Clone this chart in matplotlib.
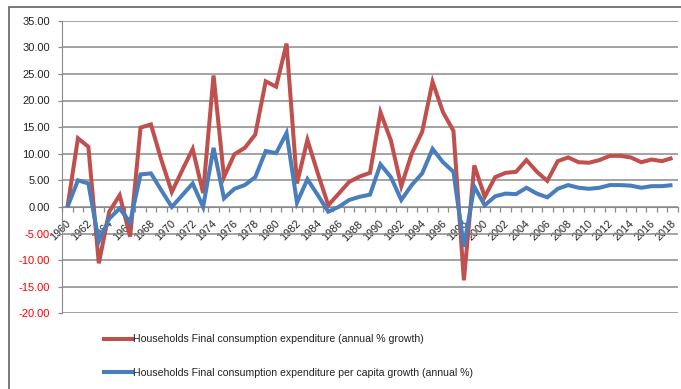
import matplotlib
matplotlib.use("Agg")
import matplotlib.pyplot as plt
import matplotlib.transforms as mtransforms
from matplotlib.patches import Rectangle
from matplotlib.lines import Line2D

years = list(range(1960, 2019))

consumption_growth = [
    0.0, 12.9, 11.3, -10.6, -0.9, 2.2, -5.6, 14.9, 15.5, 8.8,
    2.8, 6.9, 10.9, 2.6, 24.7, 5.6, 9.9, 11.1, 13.6, 23.6,
    22.6, 30.7, 4.4, 12.6, 6.3, 0.3, 2.5, 4.7, 5.7, 6.4,
    17.8, 12.5, 3.9, 10.0, 14.1, 23.5, 17.8, 14.3, -13.8, 7.8,
    1.9, 5.6, 6.4, 6.6, 8.8, 6.6, 4.9, 8.6, 9.3, 8.4,
    8.3, 8.8, 9.6, 9.6, 9.3, 8.4, 8.9, 8.6, 9.2,
]

per_capita_growth = [
    0.0, 5.0, 4.4, -6.5, -2.2, -0.3, -2.9, 6.1, 6.3, 3.1,
    0.0, 2.2, 4.4, 0.0, 11.1, 1.6, 3.4, 4.1, 5.6, 10.5,
    10.1, 13.9, 0.8, 5.2, 2.2, -0.9, 0.0, 1.3, 1.9, 2.3,
    8.0, 5.6, 1.3, 4.1, 6.3, 10.9, 8.4, 6.6, -7.5, 3.8,
    0.3, 2.0, 2.5, 2.4, 3.6, 2.5, 1.8, 3.4, 4.1, 3.6,
    3.4, 3.6, 4.1, 4.1, 4.0, 3.6, 3.9, 3.9, 4.1,
]

series_labels = [
    "Households Final consumption expenditure (annual % growth)",
    "Households Final consumption expenditure per capita growth (annual %)",
]

y_ticks = [35, 30, 25, 20, 15, 10, 5, 0, -5, -10, -15, -20]

RED = "#c0504d"
BLUE = "#4a7ebb"
GRID = "#8a8a8a"

W, H = 681, 389
fig = plt.figure(figsize=(W / 100, H / 100), dpi=100)
plt.rcParams["font.family"] = ["Liberation Sans", "DejaVu Sans"]

# outer chart frame
fig.patches.append(Rectangle((8.5 / W, -0.1), 1.2, 1.1 - 7.5 / H,
                             transform=fig.transFigure, fill=False,
                             edgecolor="#555555", linewidth=1.1))

left, right = 62.3 / W, 677.7 / W
top, bottom = 1 - 20.7 / H, 1 - 313.3 / H
ax = fig.add_axes([left, bottom, right - left, top - bottom])

x = list(range(len(years)))
ax.plot(x, consumption_growth, color=RED, lw=2.9, solid_joinstyle="miter",
        solid_capstyle="butt", zorder=3)
ax.plot(x, per_capita_growth, color=BLUE, lw=2.9, solid_joinstyle="miter",
        solid_capstyle="butt", zorder=4)

ax.set_xlim(-0.5, len(years) - 0.5)
ax.set_ylim(-20, 35)
ax.set_yticks(y_ticks)
ax.set_yticklabels([f"{v:.2f}" for v in y_ticks])
for lab, v in zip(ax.get_yticklabels(), y_ticks):
    lab.set_color("#ff0000" if v < 0 else "#222222")

ax.yaxis.grid(True, color=GRID, lw=1.1)
ax.set_axisbelow(True)

for s in ("top", "right"):
    ax.spines[s].set_visible(False)
ax.spines["left"].set_color(GRID)
ax.spines["bottom"].set_color(GRID)
ax.spines["bottom"].set_position(("data", 0))

ax.tick_params(axis="y", length=3, width=0.9, color=GRID, pad=6, labelsize=8)

# category labels every other year; minor ticks at category boundaries
label_idx = x[::2]
ax.set_xticks(label_idx)
ax.set_xticklabels([str(years[i]) for i in label_idx], rotation=45,
                   ha="right", va="center", rotation_mode="anchor")
ax.set_xticks([i - 0.5 for i in range(len(years) + 1)], minor=True)
ax.tick_params(axis="x", which="major", length=0, pad=11, labelsize=7.8,
               labelcolor="#222222")
ax.tick_params(axis="x", which="minor", length=3.5, width=0.9, color=GRID)
shift = mtransforms.ScaledTranslation(2 / 100, 0, fig.dpi_scale_trans)
for lab in ax.get_xticklabels():
    lab.set_transform(lab.get_transform() + shift)

handles = [Line2D([], [], color=RED, lw=2.9), Line2D([], [], color=BLUE, lw=2.9)]
fig.legend(handles, series_labels, loc="upper left",
           bbox_to_anchor=(96 / W, 1 - 326 / H), frameon=False,
           fontsize=7.6, handlelength=2.6, handletextpad=0.1,
           labelspacing=2.2, borderpad=0.3, labelcolor="#222222")

fig.savefig("out.png", dpi=100)
